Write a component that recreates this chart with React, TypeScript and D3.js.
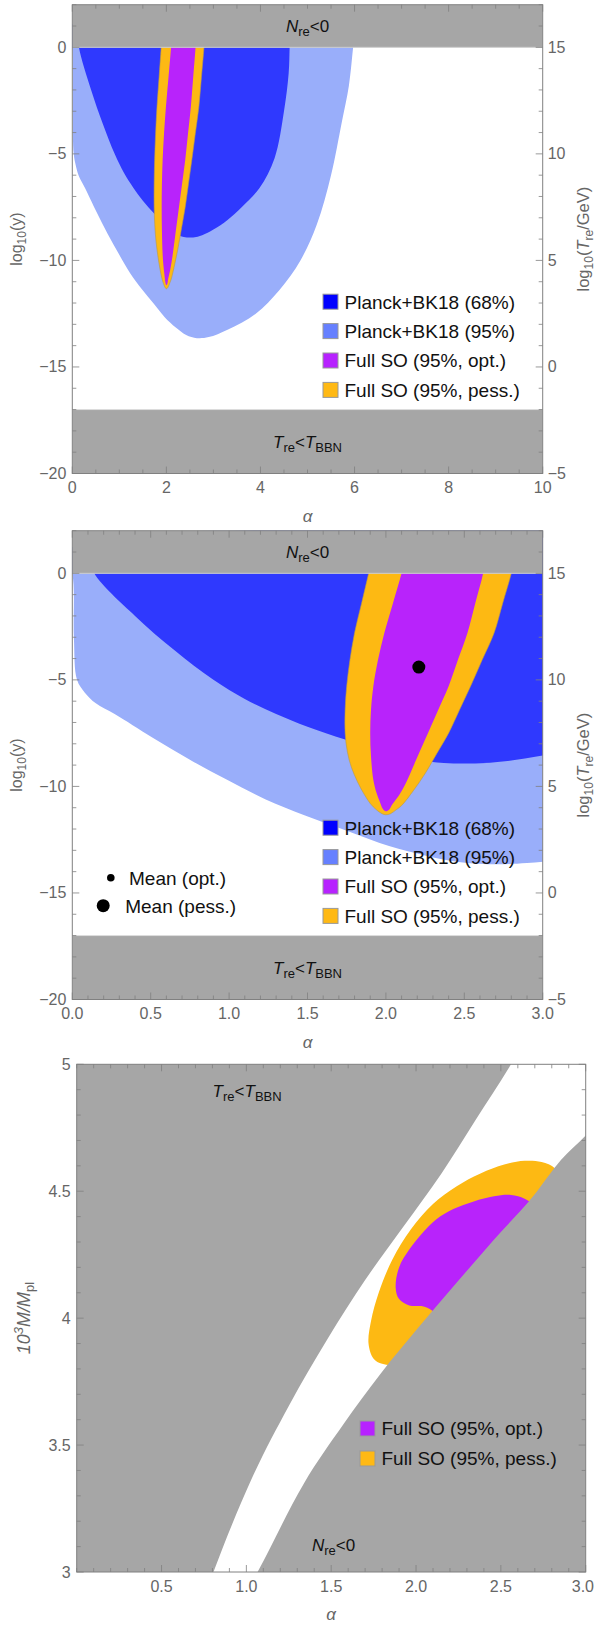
import React from 'react';
import * as d3 from 'd3';

type P = [number, number];

// ---------- data (alpha, log10 y) ----------
const planck95: P[] = [
  [-0.05, 1], [0.0, 0], [0.01, -3], [0.03, -5.0], [0.08, -5.6], [0.15, -6.1], [0.27, -6.6],
  [0.51, -7.7], [0.75, -8.75], [0.99, -9.7], [1.23, -10.6], [1.48, -11.35], [1.72, -12.0],
  [1.96, -12.65], [2.2, -13.15], [2.42, -13.5], [2.65, -13.65], [2.9, -13.6], [3.3, -13.25],
  [3.9, -12.5], [4.4, -11.4], [4.85, -10.0], [5.2, -8.3], [5.5, -6.0], [5.73, -3.5],
  [5.88, -1.8], [5.97, 0], [6.02, 1],
];

const planck68: P[] = [
  [0.1, 1], [0.14, 0], [0.4, -2.0], [0.65, -3.6], [0.9, -5.0], [1.1, -5.9], [1.3, -6.6],
  [1.5, -7.2], [1.74, -7.8], [2.0, -8.4], [2.2, -8.75], [2.37, -8.9], [2.57, -8.92],
  [2.76, -8.82], [3.0, -8.55], [3.3, -8.1], [3.6, -7.5], [3.98, -6.6], [4.3, -5.2],
  [4.5, -3.0], [4.6, -1.2], [4.62, 0], [4.63, 1],
];

const soPess: P[] = [
  [1.92, 1.0], [1.89, 0], [1.845, -1.4], [1.8, -2.8], [1.77, -4.1], [1.75, -5.3], [1.74, -6.4],
  [1.74, -7.5], [1.755, -8.4], [1.78, -9.1], [1.82, -9.8], [1.86, -10.35], [1.9, -10.8],
  [1.94, -11.1], [1.975, -11.28], [2.0, -11.33], [2.03, -11.28], [2.065, -11.1], [2.1, -10.9],
  [2.175, -10.2], [2.25, -9.4], [2.325, -8.45], [2.4, -7.5], [2.47, -6.4], [2.54, -5.3],
  [2.615, -4.05], [2.69, -2.8], [2.745, -1.4], [2.8, 0], [2.83, 1.0],
];

const soOpt: P[] = [
  [2.13, 1], [2.1, 0], [2.045, -1.4], [1.99, -2.8], [1.95, -4.05], [1.92, -5.3], [1.905, -6.4],
  [1.9, -7.5], [1.905, -8.6], [1.92, -9.7], [1.94, -10.3], [1.96, -10.7], [1.98, -11.05],
  [2.0, -11.17], [2.02, -11.1], [2.04, -10.85], [2.085, -10.4], [2.13, -9.8], [2.19, -8.8],
  [2.25, -7.8], [2.325, -6.55], [2.4, -5.3], [2.46, -4.05], [2.52, -2.8], [2.57, -1.4],
  [2.62, 0], [2.64, 1],
];

const meanOpt: P = [2.21, -4.4];
const meanPess: P = [2.21, -4.4];

// ---------- data (alpha, 10^3 M/Mpl) ----------
const bbnBoundary: P[] = [
  [0.74, 2.88], [0.806, 3.0], [1.03, 3.365], [1.25, 3.654], [1.48, 3.92], [1.7, 4.15],
  [1.925, 4.36], [2.15, 4.57], [2.35, 4.78], [2.56, 5.0], [2.62, 5.07],
];
const nreBoundary: P[] = [
  [1.0, 2.92], [1.066, 3.0], [1.34, 3.35], [1.57, 3.58], [1.79, 3.78], [2.01, 3.96],
  [2.24, 4.14], [2.46, 4.31], [2.69, 4.48], [2.854, 4.623], [3.0, 4.72], [3.08, 4.78],
];
const massSoPess: P[] = [
  [1.72, 3.9], [1.735, 3.99], [1.78, 4.1], [1.86, 4.23], [1.97, 4.35], [2.1, 4.45],
  [2.24, 4.52], [2.38, 4.57], [2.52, 4.605], [2.64, 4.62], [2.74, 4.615], [2.82, 4.59],
  [2.9, 4.5], [2.5, 4.2], [2.1, 3.92], [1.9, 3.82], [1.8, 3.82], [1.75, 3.84],
];
const massSoOpt: P[] = [
  [1.88, 4.12], [1.9, 4.2], [1.96, 4.27], [2.03, 4.33], [2.12, 4.39], [2.22, 4.43],
  [2.34, 4.46], [2.46, 4.48], [2.56, 4.485], [2.64, 4.47], [2.72, 4.42], [2.45, 4.12],
  [2.2, 4.0], [2.05, 4.045], [1.96, 4.05], [1.9, 4.075],
];

// ---------- ticks & labels ----------
const p1XMajor = [0, 2, 4, 6, 8, 10];
const p2XMajor = [0, 0.5, 1, 1.5, 2, 2.5, 3];
const p3XMajor = [0.5, 1, 1.5, 2, 2.5, 3];
const logYMajor = [0, -5, -10, -15, -20];
const tempMajor = [15, 10, 5, 0, -5];
const massMajor = [3, 3.5, 4, 4.5, 5];

const blueLegend = ['Planck+BK18 (68%)', 'Planck+BK18 (95%)', 'Full SO (95%, opt.)', 'Full SO (95%, pess.)'];
const soLegend = ['Full SO (95%, opt.)', 'Full SO (95%, pess.)'];
const meanLegend = ['Mean (opt.)', 'Mean (pess.)'];

// ---------- styles ----------
const FONT = 'Liberation Sans, Arial, Helvetica, sans-serif';
const GRAY = '#a6a6a6';
const FRAME = '#808080';
const TICKTXT = '#666666';
const C68 = '#2f39fe';
const C95 = '#99aefa';
const CPURPLE = '#b823fb';
const CORANGE = '#fdb913';
const SW68 = '#0000ff';
const SW95 = '#6680ff';
const SWPURPLE = '#b722ff';
const SWORANGE = '#ffb914';
const TICKFS = 16;
const LEGFS = 19;

const fmtInt = (v: number) => (v < 0 ? '\u2212' + Math.abs(v) : String(v));
const fmt1 = (v: number) => v.toFixed(1);
const fmtMass = (v: number) => (Number.isInteger(v) ? String(v) : v.toFixed(1));

type FrameProps = {
  sx: d3.ScaleLinear<number, number>;
  sy: d3.ScaleLinear<number, number>;
  xMajor: number[];
  xMinorStep: number;
  yMajor: number[];
  yMinorStep: number;
  xFmt: (v: number) => string;
  yFmt: (v: number) => string;
  rightLabels?: { vals: number[]; toY: (v: number) => number };
  maxTextX?: number;
};

function Frame({ sx, sy, xMajor, xMinorStep, yMajor, yMinorStep, xFmt, yFmt, rightLabels, maxTextX }: FrameProps) {
  const [x0, x1] = sx.range();
  const [yB, yT] = sy.range();
  const [dx0, dx1] = sx.domain();
  const [dy0, dy1] = sy.domain();
  const xMinor = d3.range(Math.ceil(dx0 / xMinorStep - 1e-9) * xMinorStep, dx1 + 1e-9, xMinorStep);
  const yMinor = d3.range(Math.ceil(dy0 / yMinorStep - 1e-9) * yMinorStep, dy1 + 1e-9, yMinorStep);
  const isMaj = (arr: number[], v: number) => arr.some((m) => Math.abs(m - v) < 1e-6);
  const elems: React.ReactNode[] = [];
  xMinor.forEach((v, i) => {
    const L = isMaj(xMajor, v) ? 7 : 4;
    const X = sx(v);
    elems.push(<line key={'xb' + i} x1={X} x2={X} y1={yB} y2={yB - L} stroke={FRAME} strokeWidth={0.8} />);
    elems.push(<line key={'xt' + i} x1={X} x2={X} y1={yT} y2={yT + L} stroke={FRAME} strokeWidth={0.8} />);
  });
  yMinor.forEach((v, i) => {
    const L = isMaj(yMajor, v) ? 7 : 4;
    const Y = sy(v);
    elems.push(<line key={'yl' + i} x1={x0} x2={x0 + L} y1={Y} y2={Y} stroke={FRAME} strokeWidth={0.8} />);
    elems.push(<line key={'yr' + i} x1={x1} x2={x1 - L} y1={Y} y2={Y} stroke={FRAME} strokeWidth={0.8} />);
  });
  return (
    <g>
      {elems}
      <rect x={x0} y={yT} width={x1 - x0} height={yB - yT} fill="none" stroke={FRAME} strokeWidth={1} />
      {xMajor.map((v) => {
        const X = sx(v);
        const atEdge = maxTextX !== undefined && X + 13 > maxTextX;
        return (
          <text
            key={'xl' + v}
            x={atEdge ? maxTextX : X}
            y={yB + 19.5}
            textAnchor={atEdge ? 'end' : 'middle'}
            fontSize={TICKFS}
            fill={TICKTXT}
            fontFamily={FONT}
          >
            {xFmt(v)}
          </text>
        );
      })}
      {yMajor.map((v) => (
        <text key={'ylb' + v} x={x0 - 6} y={sy(v) + 5.5} textAnchor="end" fontSize={TICKFS} fill={TICKTXT} fontFamily={FONT}>
          {yFmt(v)}
        </text>
      ))}
      {rightLabels &&
        rightLabels.vals.map((v) => (
          <text key={'rl' + v} x={x1 + 5} y={rightLabels.toY(v) + 5.5} textAnchor="start" fontSize={TICKFS} fill={TICKTXT} fontFamily={FONT}>
            {fmtInt(v)}
          </text>
        ))}
    </g>
  );
}

const closed = (sx: any, sy: any) =>
  d3.line<P>().x((d) => sx(d[0])).y((d) => sy(d[1])).curve(d3.curveCatmullRomClosed.alpha(0.5));

function NreLabel({ x, y, anchor = 'middle' }: { x: number; y: number; anchor?: string }) {
  return (
    <text x={x} y={y} textAnchor={anchor as any} fontSize={17} fontFamily={FONT} fill="#111">
      <tspan fontStyle="italic">N</tspan>
      <tspan dy={4} fontSize={13}>re</tspan>
      <tspan dy={-4}>{'<0'}</tspan>
    </text>
  );
}
function BbnLabel({ x, y, anchor = 'middle' }: { x: number; y: number; anchor?: string }) {
  return (
    <text x={x} y={y} textAnchor={anchor as any} fontSize={17} fontFamily={FONT} fill="#111">
      <tspan fontStyle="italic">T</tspan>
      <tspan dy={4} fontSize={13}>re</tspan>
      <tspan dy={-4}>{'<'}</tspan>
      <tspan fontStyle="italic">T</tspan>
      <tspan dy={4} fontSize={13}>BBN</tspan>
    </text>
  );
}

function Legend({ x, y, labels, colors, gap }: { x: number; y: number; labels: string[]; colors: string[]; gap: number }) {
  return (
    <g>
      {labels.map((l, i) => (
        <g key={l}>
          <rect x={x} y={y + i * gap - 7.5} width={15} height={15} fill={colors[i]} stroke="#999" strokeWidth={1} />
          <text x={x + 21.5} y={y + i * gap + 6.8} fontSize={LEGFS} fontFamily={FONT} fill="#111">
            {l}
          </text>
        </g>
      ))}
    </g>
  );
}

function LogPanel({ id, top, xMax, xMajor, xMinorStep, xFmt, showMean }: any) {
  const x0 = 72.3, x1 = 542.7, yT = top, yB = top + 468.8;
  const sx = d3.scaleLinear().domain([0, xMax]).range([x0, x1]);
  const sy = d3.scaleLinear().domain([-20, 2]).range([yB, yT]);
  const ln = closed(sx, sy);
  const cx = (x0 + x1) / 2;
  return (
    <g>
      <defs>
        <clipPath id={id}>
          <rect x={x0} y={yT} width={x1 - x0} height={yB - yT} />
        </clipPath>
      </defs>
      <g clipPath={`url(#${id})`}>
        <path d={ln(planck95) || ''} fill={C95} />
        <path d={ln(planck68) || ''} fill={C68} />
        <path d={ln(soPess) || ''} fill={CORANGE} stroke="#b89a4a" strokeWidth={0.6} />
        <path d={ln(soOpt) || ''} fill={CPURPLE} />
        <rect x={x0} y={sy(2)} width={x1 - x0} height={sy(0) - sy(2)} fill={GRAY} />
        <rect x={x0} y={sy(-17)} width={x1 - x0} height={sy(-20) - sy(-17)} fill={GRAY} />
        <line x1={x0} x2={x1} y1={sy(0)} y2={sy(0)} stroke="#cfcfcf" strokeWidth={1} />
        <line x1={x0} x2={x1} y1={sy(-17)} y2={sy(-17)} stroke="#dcdcdc" strokeWidth={1} />
        {showMean && (
          <g>
            <circle cx={sx(meanPess[0])} cy={sy(meanPess[1])} r={6.5} fill="#000" />
            <circle cx={sx(meanOpt[0])} cy={sy(meanOpt[1])} r={3.8} fill="#000" />
          </g>
        )}
      </g>
      <NreLabel x={cx} y={sy(1) + 6} />
      <BbnLabel x={cx} y={sy(-18.5) + 6} />
      <Frame
        sx={sx}
        sy={sy}
        xMajor={xMajor}
        xMinorStep={xMinorStep}
        yMajor={logYMajor}
        yMinorStep={1}
        xFmt={xFmt}
        yFmt={fmtInt}
        rightLabels={{ vals: tempMajor, toY: (v: number) => sy(v - 15) }}
      />
      <Legend x={323} y={yT + 297} labels={blueLegend} colors={[SW68, SW95, SWPURPLE, SWORANGE]} gap={29.4} />
      {showMean && (
        <g>
          <circle cx={110.8} cy={yT + 347} r={3.8} fill="#000" />
          <text x={129} y={yT + 347 + 6.8} fontSize={LEGFS} fontFamily={FONT} fill="#111">{meanLegend[0]}</text>
          <circle cx={103.2} cy={yT + 375} r={6.5} fill="#000" />
          <text x={125.2} y={yT + 375 + 6.8} fontSize={LEGFS} fontFamily={FONT} fill="#111">{meanLegend[1]}</text>
        </g>
      )}
      <text transform={`translate(22,${(yT + yB) / 2}) rotate(-90)`} textAnchor="middle" fontSize={16} fill={TICKTXT} fontFamily={FONT}>
        log<tspan dy={4} fontSize={12}>10</tspan>
        <tspan dy={-4}>(y)</tspan>
      </text>
      <text transform={`translate(589,${(yT + yB) / 2}) rotate(-90)`} textAnchor="middle" fontSize={16.5} fill={TICKTXT} fontFamily={FONT}>
        log<tspan dy={4} fontSize={12}>10</tspan>
        <tspan dy={-4}>(</tspan>
        <tspan fontStyle="italic">T</tspan>
        <tspan dy={4} fontSize={12}>re</tspan>
        <tspan dy={-4}>/GeV)</tspan>
      </text>
      <text x={cx} y={yB + 48} textAnchor="middle" fontSize={17} fontStyle="italic" fill={TICKTXT} fontFamily={FONT}>
        α
      </text>
    </g>
  );
}

function MassPanel() {
  const x0 = 76.7, x1 = 585.7, yT = 1064.3, yB = 1572;
  const sx = d3.scaleLinear().domain([0, 3]).range([x0, x1]);
  const sy = d3.scaleLinear().domain([3, 5]).range([yB, yT]);
  const ln = closed(sx, sy);
  const open = d3.line<P>().x((d) => sx(d[0])).y((d) => sy(d[1])).curve(d3.curveMonotoneX);
  const leftGray = (open(bbnBoundary) || '') + `L${sx(-0.2)},${sy(5.2)}L${sx(-0.2)},${sy(2.8)}Z`;
  const rightGray = (open(nreBoundary) || '') + `L${sx(3.2)},${sy(4.9)}L${sx(3.2)},${sy(2.8)}L${sx(0.9)},${sy(2.8)}Z`;
  return (
    <g>
      <defs>
        <clipPath id="clip3">
          <rect x={x0} y={yT} width={x1 - x0} height={yB - yT} />
        </clipPath>
      </defs>
      <g clipPath="url(#clip3)">
        <rect x={x0} y={yT} width={x1 - x0} height={yB - yT} fill="#fff" />
        <path d={ln(massSoPess) || ''} fill={CORANGE} />
        <path d={ln(massSoOpt) || ''} fill={CPURPLE} />
        <path d={leftGray} fill={GRAY} />
        <path d={rightGray} fill={GRAY} />
      </g>
      <BbnLabel x={212.6} y={1097} anchor="start" />
      <NreLabel x={312} y={1551} anchor="start" />
      <Frame
        sx={sx}
        sy={sy}
        xMajor={p3XMajor}
        xMinorStep={0.1}
        yMajor={massMajor}
        yMinorStep={0.1}
        xFmt={fmt1}
        yFmt={fmtMass}
        maxTextX={594}
      />
      <Legend x={360} y={1428.5} labels={soLegend} colors={[SWPURPLE, SWORANGE]} gap={30} />
      <text transform={`translate(30,${(yT + yB) / 2}) rotate(-90)`} textAnchor="middle" fontSize={18} fill={TICKTXT} fontFamily={FONT}>
        <tspan fontStyle="italic">10</tspan>
        <tspan dy={-7} fontSize={13} fontStyle="italic">3</tspan>
        <tspan dy={7} fontStyle="italic">M/M</tspan>
        <tspan dy={4} fontSize={13}>pl</tspan>
      </text>
      <text x={(x0 + x1) / 2} y={yB + 48} textAnchor="middle" fontSize={17} fontStyle="italic" fill={TICKTXT} fontFamily={FONT}>
        α
      </text>
    </g>
  );
}

export default function App() {
  return (
    <svg width={595} height={1625} style={{ position: 'absolute', left: 0, top: 0, background: '#fff' }}>
      <rect x={0} y={0} width={595} height={1625} fill="#fff" />
      <LogPanel id="clip1" top={4.7} xMax={10} xMajor={p1XMajor} xMinorStep={0.5} xFmt={(v: number) => String(v)} showMean={false} />
      <LogPanel id="clip2" top={530.7} xMax={3} xMajor={p2XMajor} xMinorStep={0.1} xFmt={fmt1} showMean={true} />
      <MassPanel />
    </svg>
  );
}
